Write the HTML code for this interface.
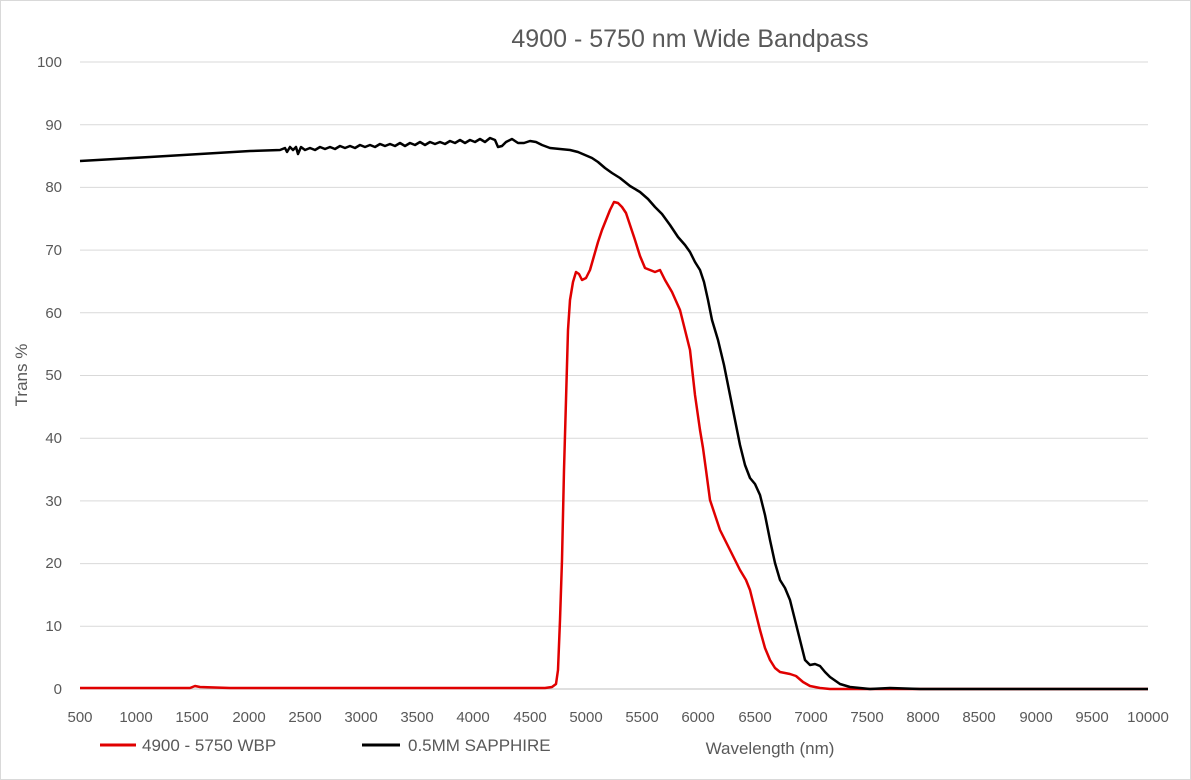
<!DOCTYPE html>
<html><head><style>body{margin:0;background:#fff}svg{display:block}text{font-family:"Liberation Sans",sans-serif;fill:#595959}</style></head>
<body>
<svg width="1191" height="780" viewBox="0 0 1191 780">
<rect x="0.5" y="0.5" width="1190" height="779" fill="#fff" stroke="#d9d9d9"/>
<text x="690" y="47" font-size="25" text-anchor="middle">4900 - 5750 nm Wide Bandpass</text>
<g stroke="#d9d9d9" stroke-width="1">
<line x1="80" x2="1148" y1="62" y2="62"/><line x1="80" x2="1148" y1="124.7" y2="124.7"/><line x1="80" x2="1148" y1="187.4" y2="187.4"/><line x1="80" x2="1148" y1="250.1" y2="250.1"/><line x1="80" x2="1148" y1="312.8" y2="312.8"/><line x1="80" x2="1148" y1="375.5" y2="375.5"/><line x1="80" x2="1148" y1="438.2" y2="438.2"/><line x1="80" x2="1148" y1="500.9" y2="500.9"/><line x1="80" x2="1148" y1="563.6" y2="563.6"/><line x1="80" x2="1148" y1="626.3" y2="626.3"/><line x1="80" x2="1148" y1="689" y2="689" stroke="#bfbfbf"/>
</g>
<g font-size="15" text-anchor="end">
<text x="62" y="67">100</text><text x="62" y="130">90</text><text x="62" y="192">80</text><text x="62" y="255">70</text><text x="62" y="318">60</text><text x="62" y="380">50</text><text x="62" y="443">40</text><text x="62" y="506">30</text><text x="62" y="568">20</text><text x="62" y="631">10</text><text x="62" y="694">0</text>
</g>
<g font-size="15" text-anchor="middle">
<text x="80" y="722">500</text><text x="136" y="722">1000</text><text x="192" y="722">1500</text><text x="249" y="722">2000</text><text x="305" y="722">2500</text><text x="361" y="722">3000</text><text x="417" y="722">3500</text><text x="473" y="722">4000</text><text x="530" y="722">4500</text><text x="586" y="722">5000</text><text x="642" y="722">5500</text><text x="698" y="722">6000</text><text x="755" y="722">6500</text><text x="811" y="722">7000</text><text x="867" y="722">7500</text><text x="923" y="722">8000</text><text x="979" y="722">8500</text><text x="1036" y="722">9000</text><text x="1092" y="722">9500</text><text x="1148" y="722">10000</text>
</g>
<text transform="translate(27,375) rotate(-90)" font-size="17" text-anchor="middle">Trans %</text>
<text x="770" y="754" font-size="17" text-anchor="middle">Wavelength (nm)</text>
<line x1="100" x2="136" y1="745" y2="745" stroke="#e00000" stroke-width="3"/>
<text x="142" y="751" font-size="17">4900 - 5750 WBP</text>
<line x1="362" x2="400" y1="745" y2="745" stroke="#000" stroke-width="3"/>
<text x="408" y="751" font-size="17">0.5MM SAPPHIRE</text>
<polyline fill="none" stroke="#e00000" stroke-width="2.5" stroke-linejoin="round" points="80,688 190,688 195,686 200,687 230,688 545,688 552,687 556,684 558,670 560,620 562,560 564,470 566,400 568,330 570,300 573,282 576,272 579,274 582,280 586,278 590,270 594,256 598,242 602,230 606,220 610,210 614,202 618,203 622,207 626,213 630,225 635,240 640,256 645,268 650,270 655,272 660,270 665,280 672,292 680,310 685,330 690,350 695,395 700,430 703,448 706,470 710,500 715,515 720,530 730,550 740,570 746,580 750,590 755,610 760,630 765,648 770,660 775,668 780,672 790,674 796,676 803,682 810,686 820,688 830,689 1148,689"/>
<polyline fill="none" stroke="#000" stroke-width="2.5" stroke-linejoin="round" points="80,161 150,157 200,154 250,151 280,150 285,148 287,152 290,147 293,150 296,147 298,154 301,147 305,150 310,148 315,150 320,147 325,149 330,147 335,149 340,146 345,148 350,146 355,148 360,145 365,147 370,145 375,147 380,144 385,146 390,144 395,146 400,143 405,146 410,143 415,145 420,142 425,145 430,142 435,144 440,142 445,144 450,141 455,143 460,140 465,143 470,140 475,142 480,139 485,142 490,138 495,140 498,147 502,146 506,142 512,139 518,143 524,143 530,141 536,142 542,145 550,148 560,149 570,150 578,152 585,155 592,158 598,162 605,168 612,173 620,178 630,186 640,192 648,199 655,207 662,214 670,225 678,237 685,245 690,252 695,262 700,270 704,282 708,300 712,320 718,340 724,365 730,395 735,420 740,445 745,465 750,478 755,484 760,495 765,515 770,540 775,563 780,580 785,588 790,600 795,620 800,640 805,660 810,665 815,664 820,666 825,672 830,677 840,684 850,687 870,689 890,688 920,689 1148,689"/>
</svg>
</body></html>
